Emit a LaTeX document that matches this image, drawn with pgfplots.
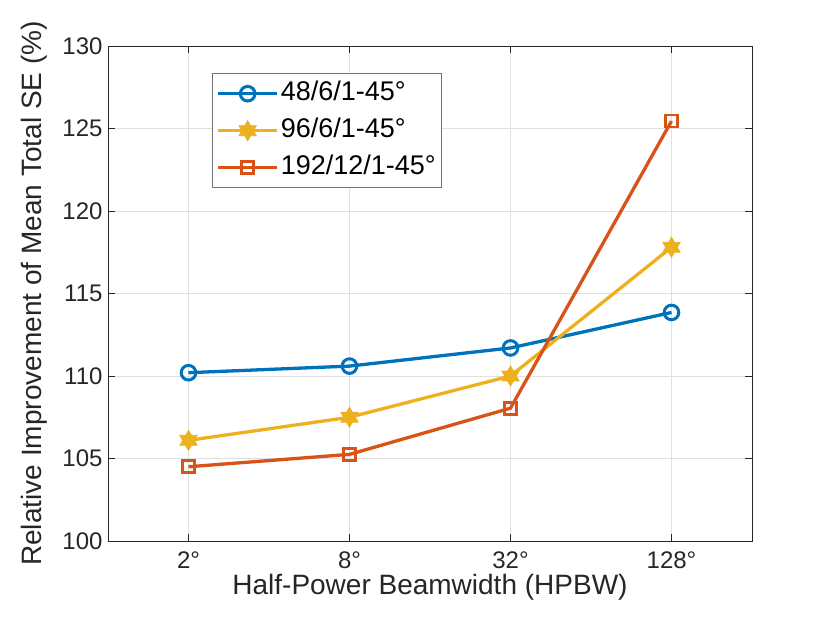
\documentclass[border=0pt]{standalone}
\usepackage{fontspec}
\setmainfont{Liberation Sans}
\usepackage{pgfplots}
\pgfplotsset{compat=1.18}
\definecolor{mblue}{rgb}{0,0.447,0.741}
\definecolor{morange}{rgb}{0.85,0.325,0.098}
\definecolor{myellow}{rgb}{0.929,0.694,0.125}
\definecolor{maxis}{rgb}{0.15,0.15,0.15}
\pgfdeclareplotmark{hexagram}{%
  \pgfpathmoveto{\pgfqpointpolar{90}{\pgfplotmarksize}}%
  \pgfpathlineto{\pgfqpointpolar{210}{\pgfplotmarksize}}%
  \pgfpathlineto{\pgfqpointpolar{330}{\pgfplotmarksize}}%
  \pgfpathclose
  \pgfpathmoveto{\pgfqpointpolar{30}{\pgfplotmarksize}}%
  \pgfpathlineto{\pgfqpointpolar{150}{\pgfplotmarksize}}%
  \pgfpathlineto{\pgfqpointpolar{270}{\pgfplotmarksize}}%
  \pgfpathclose
  \pgfusepathqfillstroke
}
\begin{document}
\begin{tikzpicture}
\useasboundingbox (-108pt,-82pt) rectangle (722pt,541pt);
\begin{axis}[
  anchor=south west, at={(0pt,0pt)},
  scale only axis, width=644pt, height=495pt,
  xmin=0.5, xmax=4.5, ymin=100, ymax=130,
  xtick={1,2,3,4}, xticklabels={2°,8°,32°,128°},
  ytick={100,105,...,130},
  grid=major, major grid style={color=black!12, line width=0.7pt},
  axis line style={color=maxis, line width=0.8pt},
  tick style={color=maxis, line width=0.8pt},
  tick align=inside, major tick length=7pt,
  /pgf/number format/assume math mode=true,
  tick label style={font=\fontsize{24}{28}\selectfont, color=black!85},
  xticklabel style={anchor=base, yshift=-28pt, inner ysep=0pt},
  yticklabel style={xshift=-2pt},
  xlabel={Half-Power Beamwidth (HPBW)},
  ylabel={Relative Improvement of Mean Total SE (\%)},
  label style={font=\fontsize{28}{32}\selectfont, color=black!85},
  xlabel style={at={(axis description cs:0.5,-0.108)}, anchor=base, inner ysep=0pt},
  ylabel style={at={(axis description cs:-0.1025,0.5)}, anchor=base},
  legend style={at={(rel axis cs:0.1615,0.945)}, anchor=north west,
    font=\fontsize{27}{30}\selectfont, draw=black!55, line width=1pt,
    row sep=13pt, inner xsep=4pt, inner ysep=8pt,
    nodes={inner xsep=2pt, inner ysep=0pt, text height=19pt, text depth=5pt, text=black}},
  legend cell align=left,
  legend image code/.code={%
    \draw[mark repeat=2, mark phase=2, #1] plot coordinates {(0pt,0pt) (29.5pt,0pt) (59pt,0pt)};
  },
]
\addplot[color=mblue, line width=3.3pt, mark=o, mark size=7.3pt, mark options={line width=3pt, fill=none}]
  coordinates {(1,110.2) (2,110.6) (3,111.7) (4,113.85)};
\addlegendentry{48/6/1-45°}
\addplot[color=myellow, line width=3.3pt, mark=hexagram, mark size=10pt, mark options={line width=0.8pt, fill=myellow}]
  coordinates {(1,106.1) (2,107.5) (3,110.0) (4,117.8)};
\addlegendentry{96/6/1-45°}
\addplot[color=morange, line width=3.3pt, mark=square, mark size=6pt, mark options={line width=2.8pt, fill=none}]
  coordinates {(1,104.5) (2,105.25) (3,108.05) (4,125.45)};
\addlegendentry{192/12/1-45°}
\end{axis}
\end{tikzpicture}
\end{document}
